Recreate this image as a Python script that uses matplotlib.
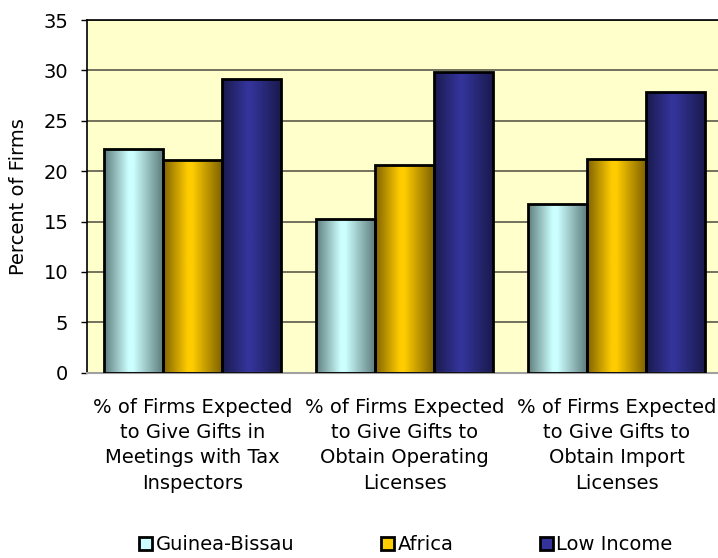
import numpy as np
import matplotlib.pyplot as plt
from matplotlib.colors import LinearSegmentedColormap
from matplotlib.patches import Patch

# data
categories = [
    "% of Firms Expected\nto Give Gifts in\nMeetings with Tax\nInspectors",
    "% of Firms Expected\nto Give Gifts to\nObtain Operating\nLicenses",
    "% of Firms Expected\nto Give Gifts to\nObtain Import\nLicenses",
]
series_names = ["Guinea-Bissau", "Africa", "Low Income"]
guinea_bissau = [22.2, 15.3, 16.7]
africa = [21.1, 20.6, 21.2]
low_income = [29.1, 29.8, 27.9]

# (dark edge colour, light centre colour) for the shaded bars
shades = [("#5f7d7d", "#ccffff"), ("#7f6200", "#ffcc00"), ("#1a1a4d", "#333399")]

plt.rcParams['font.family'] = ['DejaVu Sans']

fig = plt.figure(figsize=(7.18, 5.58), dpi=100)
ax = fig.add_axes([86.5 / 718, 185.3 / 558, 636 / 718, 352.7 / 558])
ax.set_facecolor("#ffffcc")

x = np.arange(len(categories))
width = 0.278
all_values = [guinea_bissau, africa, low_income]
gradient = np.linspace(0, 1, 256).reshape(1, -1)

for i, values in enumerate(all_values):
    dark, light = shades[i]
    cmap = LinearSegmentedColormap.from_list(
        series_names[i], [(0, dark), (0.42, light), (0.5, light), (1, dark)])
    bars = ax.bar(x + (i - 1) * width, values, width, facecolor="none",
                  edgecolor="black", linewidth=2, zorder=3)
    # shaded fill, clipped to each bar
    for b in bars:
        im = ax.imshow(gradient, cmap=cmap, aspect="auto", zorder=2.5,
                       extent=[b.get_x(), b.get_x() + b.get_width(), 0, b.get_height()])
        im.set_clip_path(b)

ax.set_xlim(-0.5, 2.5)
ax.set_ylim(0, 35)
ax.set_yticks(range(0, 36, 5))
ax.yaxis.grid(True, color="#4d4d40", linewidth=1.1, zorder=1)
ax.set_axisbelow(True)
ax.set_xticks(x)
ax.set_xticklabels(categories, fontsize=14, linespacing=1.42)
ax.tick_params(axis="x", length=0, pad=18)
ax.tick_params(axis="y", labelsize=14, length=4, width=1, pad=9)
ax.set_ylabel("Percent of Firms", fontsize=14, labelpad=11)

for side in ["left", "top"]:
    ax.spines[side].set_color("black")
    ax.spines[side].set_linewidth(1.2)
ax.spines["right"].set_visible(False)
ax.spines["bottom"].set_color("#a0a0a0")
ax.spines["bottom"].set_linewidth(1.5)

handles = [Patch(facecolor=shades[i][1], edgecolor="black", linewidth=2)
           for i in range(3)]
fig.legend(handles, series_names, loc="center", bbox_to_anchor=(406 / 718, 1 - 545 / 558),
           ncol=3, frameon=False, fontsize=14, handlelength=0.65, handleheight=0.65,
           handletextpad=0.2, columnspacing=4.45)

fig.savefig("out.png", dpi=100)
